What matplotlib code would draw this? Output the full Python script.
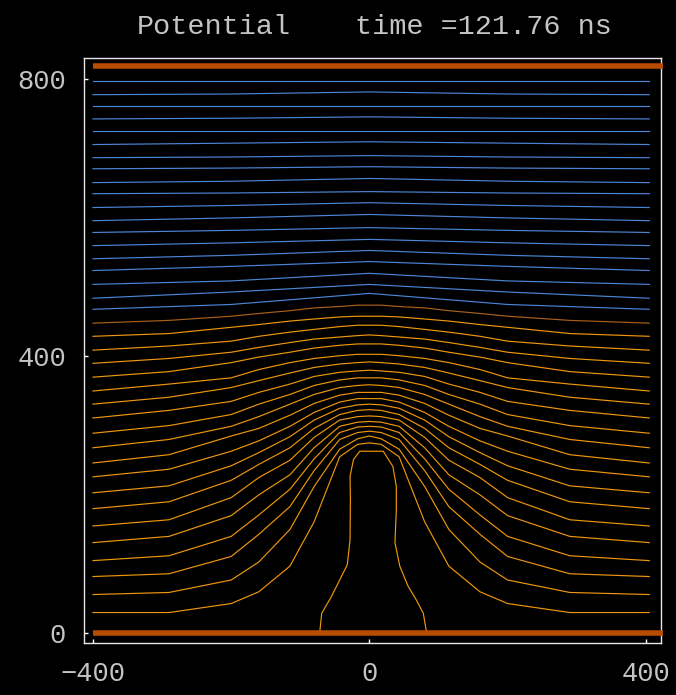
import numpy as np
import matplotlib.pyplot as plt

# ---------DATA---------
title_left = "Potential"
title_right = "time =121.76 ns"

x_ticks = [-400, 0, 400]
y_ticks = [0, 400, 800]

# electrode plates (y position) and their x span
electrode_y = [0, 820]
electrode_x = [-400, 425]

# contour lines run from x=-400 to x=405
line_left_end = -400
line_right_end = 405

# blue contours, y read at x = -400, -200 and 0 (right half mirrored)
blue_left = [798, 778, 762, 743, 726, 706, 687, 671, 651, 635,
             615, 596, 579, 560, 541, 524, 504, 484, 468]
blue_mid = [798, 779, 762, 744, 726, 708, 688, 672, 653, 636,
            618, 600, 582, 564, 546, 530, 509, 493, 475]
blue_centre = [798, 782, 762, 746, 726, 710, 690, 674, 657, 638,
               622, 605, 586, 569, 553, 537, 520, 504, 491]

# orange contours, half profiles (left side) read at these x positions
orange_x = [-400, -290, -200, -160, -115, -80, -43, -17, 0]
orange_profiles = [
    [448, 452, 458, 462, 466, 470, 472, 474, 474],
    [429, 433, 442, 446, 451, 454, 457, 458, 458],
    [409, 415, 422, 429, 435, 439, 443, 445, 445],
    [390, 397, 406, 413, 420, 425, 428, 430, 431],
    [370, 378, 391, 399, 406, 412, 416, 418, 418],
    [350, 360, 369, 381, 391, 397, 401, 403, 403],
    [331, 341, 355, 365, 376, 384, 389, 391, 392],
    [311, 322, 335, 348, 360, 371, 377, 379, 380],
    [289, 300, 316, 331, 345, 358, 366, 369, 369],
    [268, 280, 299, 313, 331, 345, 355, 358, 359],
    [246, 258, 285, 296, 315, 332, 344, 348, 348],
    [226, 237, 263, 278, 299, 319, 334, 339, 339],
    [203, 213, 242, 261, 284, 308, 325, 330, 331],
    [180, 190, 221, 244, 268, 296, 316, 322, 323],
    [155, 164, 196, 225, 250, 283, 308, 313, 314],
    [131, 140, 170, 200, 229, 268, 299, 305, 306],
    [105, 112, 140, 171, 208, 252, 290, 298, 299],
    [82, 86, 111, 143, 183, 235, 280, 290, 292],
    [56, 59, 77, 103, 150, 212, 266, 281, 285],
    [30, 30, 43, 60, 97, 161, 255, 273, 275],
]

# innermost contour around the conducting channel
bell_x = [-72, -69, -55, -43, -32, -28, -27.5, -28, -23, -14,
          20, 34, 39, 39, 37, 44, 56, 68, 78, 83]
bell_y = [0, 29, 53, 77, 99, 135, 193, 227, 251, 263,
          263, 241, 212, 179, 131, 97, 68, 48, 29, 0]

# ---------PLOT---------
plt.rcParams['font.family'] = ['Liberation Mono', 'DejaVu Sans Mono']
text_col = '#c4c4c4'
blue = '#4a86d6'
orange = '#ee960c'
brown = '#a8601c'
plate = '#b84c00'
lw = 0.85

fig = plt.figure(figsize=(6.76, 6.95), dpi=100, facecolor='black')
ax = fig.add_axes([84 / 676, 52 / 695, 577 / 676, 585 / 695])
ax.set_facecolor('black')

# blue lines
for yl, ym, yc in zip(blue_left, blue_mid, blue_centre):
    xs = [line_left_end, -200, 0, 200, line_right_end]
    ys = [yl, ym, yc, ym, yl]
    ax.plot(xs, ys, color=blue, lw=lw)

# orange lines, mirrored to the right
ox = np.array(orange_x, dtype=float)
full_x = np.concatenate([ox, -ox[::-1][1:]])
full_x[-1] = line_right_end
for i, prof in enumerate(orange_profiles):
    p = np.array(prof, dtype=float)
    full_y = np.concatenate([p, p[::-1][1:]])
    ax.plot(full_x, full_y, color=brown if i == 0 else orange, lw=lw)

ax.plot(bell_x, bell_y, color=orange, lw=lw)

# electrodes
for ey in electrode_y:
    ax.plot(electrode_x, [ey, ey], color=plate, lw=4.0,
            solid_capstyle='butt', clip_on=False, zorder=5)

ax.set_xlim(-413, 422)
ax.set_ylim(-14, 831)
ax.set_xticks(x_ticks)
ax.set_yticks(y_ticks)
ax.tick_params(direction='in', length=3, width=1, color='white',
               labelcolor=text_col, labelsize=19.5, pad=13)
for s in ax.spines.values():
    s.set_color('#e6e6e6')
    s.set_linewidth(1.0)

fig.text(137 / 676, 1 - 27 / 695, title_left, color=text_col,
         fontsize=20.5, ha='left', va='center')
fig.text(355 / 676, 1 - 27 / 695, title_right, color=text_col,
         fontsize=20.5, ha='left', va='center')

fig.savefig('out.png', dpi=100, facecolor='black')
